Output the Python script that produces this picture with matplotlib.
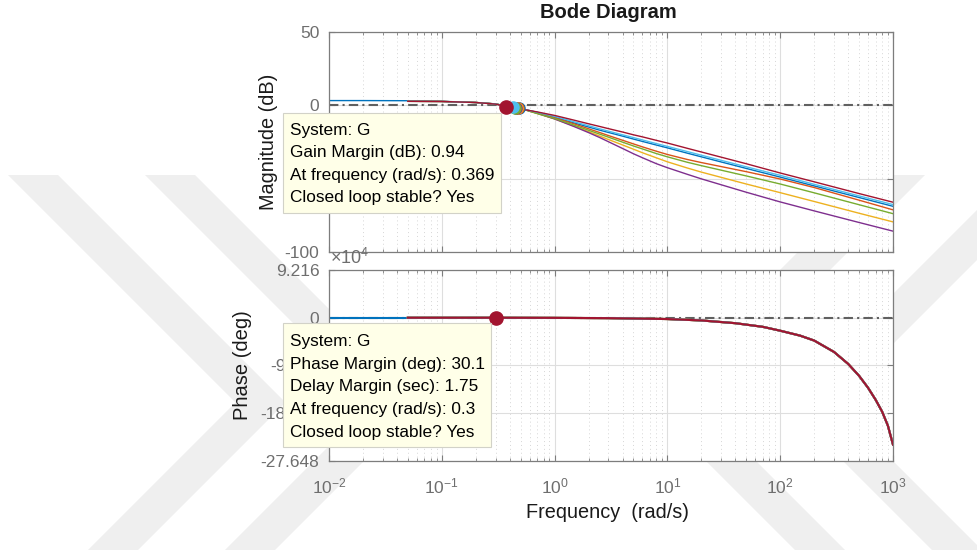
import matplotlib.pyplot as plt
from matplotlib.patches import Polygon
from matplotlib.ticker import FixedLocator, FuncFormatter, LogLocator, NullFormatter

plt.rcParams['font.family'] = ['Liberation Sans', 'DejaVu Sans']
plt.rcParams['mathtext.fontset'] = 'custom'
plt.rcParams['mathtext.rm'] = 'Liberation Sans'
plt.rcParams['mathtext.it'] = 'Liberation Sans:italic'

# ---- data ----
freq_blue = [0.01, 0.02, 0.05, 0.1, 0.2, 0.3, 0.4, 0.5, 0.7, 1, 1.5, 2, 2.5, 3, 4, 5, 6, 8, 10,
             15, 20, 50, 100, 200, 500, 1000]
freq = [0.05, 0.1, 0.2, 0.3, 0.4, 0.5, 0.7, 1, 1.5, 2, 2.5, 3, 4, 5, 6, 8, 10,
        15, 20, 50, 100, 200, 500, 1000]

mag_blue = [3.1, 3.1, 3.0, 2.6, 1.8, 0.8, -1.1, -2.4, -4.9, -8.2, -12.2, -14.9, -17.0, -18.6, -21.1, -23.1,
            -24.7, -27.2, -29.1, -32.7, -35.2, -43.1, -49.0, -55.0, -62.9, -68.9]
mag_orange = [2.6, 2.5, 1.8, 0.8, -1.1, -2.3, -5.0, -8.6, -12.8, -16.1, -18.6, -20.7, -23.9, -26.4,
              -28.4, -31.4, -33.6, -37.0, -39.1, -45.3, -50.3, -56.1, -64.7, -71.3]
mag_yellow = [2.6, 2.5, 1.8, 0.8, -1.1, -2.3, -5.7, -9.4, -14.3, -18.1, -21.0, -23.4, -27.1, -30.0,
              -32.4, -35.9, -38.6, -42.8, -45.6, -53.7, -59.6, -65.6, -73.6, -79.5]
mag_purple = [2.6, 2.5, 1.8, 0.8, -1.1, -2.3, -5.5, -9.4, -14.7, -18.7, -22.0, -24.9, -29.5, -33.1,
              -35.8, -39.9, -42.6, -47.1, -50.2, -59.3, -65.9, -72.0, -79.9, -85.8]
mag_green = [2.6, 2.5, 1.8, 0.8, -1.1, -2.3, -5.7, -9.1, -13.7, -17.1, -19.7, -21.8, -25.2, -27.8,
             -29.8, -33.0, -35.2, -38.9, -41.2, -48.2, -53.7, -59.7, -67.8, -73.9]
mag_lblue = [2.6, 2.5, 1.8, 0.8, -1.2, -2.5, -4.8, -7.6, -11.4, -14.0, -16.1, -17.7, -20.2, -22.1,
             -23.7, -26.2, -28.1, -31.6, -34.1, -42.0, -47.8, -53.9, -61.8, -67.7]
mag_red = [2.6, 2.5, 1.8, 0.7, -1.4, -2.6, -4.6, -7.0, -10.3, -12.7, -14.5, -16.0, -18.3, -20.2,
           -21.6, -24.0, -25.8, -29.4, -31.9, -39.9, -46.2, -52.2, -60.2, -66.1]

freq_ph = [0.01, 0.05, 0.1, 0.3, 1, 3, 10, 20, 40, 70, 100, 150, 200, 300, 400, 500, 600, 700, 800, 900, 1000]
phase = [0, 0, 0, 0, -250, -750, -2500, -5200, -10500, -17500, -25000, -34500, -44000, -66000, -89000,
         -112000, -135000, -158000, -181000, -208000, -245000]

colors = ['#0072BD', '#D95319', '#EDB120', '#7E2F8E', '#77AC30', '#4DBEEE', '#A2142F']
mag_lines = [mag_blue, mag_orange, mag_yellow, mag_purple, mag_green, mag_lblue, mag_red]

# gain margin markers, one per system (same order as colors)
gm_freq = [0.487, 0.477, 0.467, 0.458, 0.444, 0.431, 0.369]
gm_db = [-2.2, -2.1, -2.0, -1.9, -1.7, -1.6, -0.94]
pm_freq = 0.3
pm_deg = 0

mag_ticks = [-100, -50, 0, 50]
phase_ticks = [-276480, -184320, -92160, 0, 92160]
phase_labels = ['-27.648', '-18.432', '-9.216', '0', '9.216']

W, H = 977, 550
fig = plt.figure(figsize=(W / 100, H / 100), dpi=100)


def px(x, y):
    return (x / W, 1 - y / H)


# watermark chevrons behind the axes
bg = fig.add_axes([0, 0, 1, 1], zorder=-5)
bg.set_xlim(0, W)
bg.set_ylim(H, 0)
bg.axis('off')
for dx in [0, 137]:
    pts = [(8 + dx, 175), (58 + dx, 175), (285.5 + dx, 402.5), (138 + dx, 550),
           (88 + dx, 550), (235.5 + dx, 402.5)]
    bg.add_patch(Polygon(pts, closed=True, color='#efefef', lw=0))
    mirror = [(1070 - x, y) for x, y in pts]
    bg.add_patch(Polygon(mirror, closed=True, color='#efefef', lw=0))

ax1 = fig.add_axes([329 / W, 1 - 252 / H, 564 / W, 220.3 / H])
ax2 = fig.add_axes([329 / W, 1 - 461 / H, 564 / W, 191 / H])

spine_c = '#7d7d7d'
tick_c = '#6e6e6e'
for ax in (ax1, ax2):
    ax.set_facecolor('white')
    ax.set_xscale('log')
    ax.set_xlim(1e-2, 1e3)
    ax.xaxis.set_major_locator(LogLocator(base=10, numticks=10))
    ax.xaxis.set_minor_locator(LogLocator(base=10, subs=range(2, 10), numticks=20))
    ax.xaxis.set_minor_formatter(NullFormatter())
    ax.grid(which='major', color='#dedede', lw=0.8)
    ax.grid(which='minor', color='#d6d6d6', lw=0.7, ls=(0, (1, 3)))
    ax.set_axisbelow(True)
    ax.tick_params(which='both', direction='in', top=True, right=True, color=spine_c,
                   labelcolor=tick_c, labelsize=12.5)
    ax.tick_params(which='major', length=4.5, width=0.8)
    ax.tick_params(which='minor', length=2.5, width=0.6)
    ax.tick_params(axis='y', pad=7)
    ax.tick_params(axis='x', pad=11)
    for s in ax.spines.values():
        s.set_color(spine_c)
        s.set_linewidth(0.9)
    ax.axhline(0, color='#606060', lw=1.5, ls=(0, (4.5, 2, 1, 2)), zorder=1)

# magnitude
ax1.set_ylim(-100, 50)
ax1.yaxis.set_major_locator(FixedLocator(mag_ticks))
ax1.yaxis.set_major_formatter(FuncFormatter(lambda v, p: '%g' % v))
ax1.tick_params(axis='x', labelbottom=False)
ax1.plot(freq_blue, mag_blue, color=colors[0], lw=1.0, zorder=2)
for c, m in zip(colors[1:], mag_lines[1:]):
    ax1.plot(freq, m, color=c, lw=1.0, zorder=2)
# later systems sit on top, as in the original plot order
for f, d, c in zip(gm_freq, gm_db, colors):
    ms = 9.5 if c == '#A2142F' else 8
    ax1.plot(f, d, 'o', color=c, ms=ms, zorder=4)

# phase (all systems share the same curve)
ax2.set_ylim(-276480, 92160)
ax2.yaxis.set_major_locator(FixedLocator(phase_ticks))
ax2.set_yticklabels(phase_labels)
ax2.plot(freq_ph[:2], phase[:2], color=colors[0], lw=1.5, zorder=2)
for c in colors[1:]:
    ax2.plot(freq_ph[1:], phase[1:], color=c, lw=1.5, zorder=2)
ax2.plot(pm_freq, pm_deg, 'o', color='#A2142F', ms=9.5, zorder=4)

fig.text(*px(330, 258), r'$\times10^{4}$', color=tick_c, fontsize=13, ha='left', va='center')

# labels
fig.text(*px(608, 12), 'Bode Diagram', fontsize=14.5, fontweight='bold', ha='center', va='center', color='#1a1a1a')
fig.text(*px(268, 142), 'Magnitude (dB)', fontsize=14.3, rotation=90, ha='center', va='center', color='#1a1a1a')
fig.text(*px(243, 365), 'Phase (deg)', fontsize=14.5, rotation=90, ha='center', va='center', color='#1a1a1a')
fig.text(*px(608, 512), 'Frequency  (rad/s)', fontsize=14.3, ha='center', va='center', color='#1a1a1a')

# data tips
box_kw = dict(facecolor='#ffffe8', edgecolor='#d2d2c8', lw=0.8)
tip1 = ['System: G', 'Gain Margin (dB): 0.94', 'At frequency (rad/s): 0.369', 'Closed loop stable? Yes']
tip2 = ['System: G', 'Phase Margin (deg): 30.1', 'Delay Margin (sec): 1.75', 'At frequency (rad/s): 0.3',
        'Closed loop stable? Yes']

for (x0, y0, x1, y1), lines, ytop in [((283.3, 112.7, 500.7, 212.7), tip1, 130),
                                      ((282.7, 323.3, 490.7, 446.7), tip2, 341.7)]:
    fig.patches.append(plt.Rectangle(px(x0, y1), (x1 - x0) / W, (y1 - y0) / H,
                                     transform=fig.transFigure, zorder=5, **box_kw))
    for i, t in enumerate(lines):
        fig.text(*px(290, ytop + i * 22.6), t, fontsize=12.4, ha='left', va='center',
                 color='black', zorder=6)

fig.savefig('out.png', dpi=100, facecolor='white')
